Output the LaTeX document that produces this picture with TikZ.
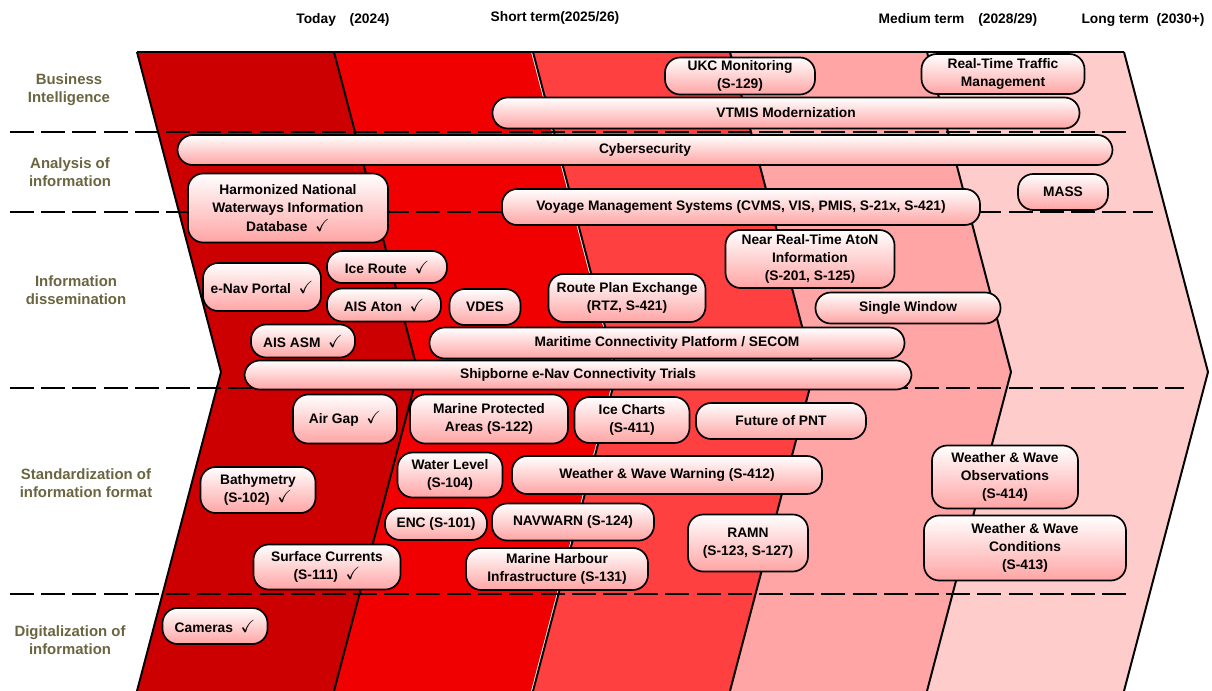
\documentclass[tikz,border=0pt]{standalone}
\usepackage{fontspec}
\usepackage{amssymb}
\setmainfont{Liberation Sans}
\usepackage{xcolor}
\usepackage{tikz}

\definecolor{bandA}{HTML}{CC0000}
\definecolor{bandB}{HTML}{F00000}
\definecolor{bandC}{HTML}{FF4040}
\definecolor{bandD}{HTML}{FFA5A5}
\definecolor{bandE}{HTML}{FFCCCC}
\definecolor{boxpink}{HTML}{FFA4A4}
\definecolor{levelolive}{HTML}{6A6540}

\newcommand{\ok}{~~{\fontsize{12.5}{12.5}\selectfont$\checkmark$}}

\begin{document}
\begin{tikzpicture}[x=0.025cm, y=-0.025cm,
    every node/.style={font=\bfseries\fontsize{9.8}{13}\selectfont},
    item/.style={draw, line width=1.2pt, rounded corners=0.38cm, top color=white, bottom color=boxpink, align=center, inner sep=1pt},
    dims/.style 2 args={minimum width=#1*0.025cm, minimum height=#2*0.025cm},
    level/.style={text=levelolive, align=center, font=\bfseries\fontsize{10.6}{13}\selectfont},
    sep/.style={line width=2pt, dash pattern=on 0.6cm off 0.18cm}]
    \useasboundingbox (0,0) rectangle (1212,691);

    % Time bands
    \foreach \x/\c in {137/bandA, 334/bandB, 533/bandC, 730/bandD, 927/bandE}
        \fill[\c] (\x,52) -- (\x+197,52) -- (\x+281,372) -- (\x+197,691) -- (\x,691) -- (\x+84,372) -- cycle;
    \foreach \x in {137,334,533,730,927,1124}
        \draw[line width=1.4pt] (\x,52) -- (\x+84,372) -- (\x,691);
    \draw[line width=1.4pt] (137,52) -- (1124,52);

    % Headers
    \node (today) at (343,20) {Today\quad(2024)};
    \node (short) at (555,18) {Short term(2025/26)};
    \node (medium) at (958,20) {Medium term\quad(2028/29)};
    \node (long) at (1143,20) {Long term\ \ (2030+)};

    % Levels
    \node[level] (lbi) at (69,90) {Business\\Intelligence};
    \node[level] (lai) at (70,172) {Analysis of\\information};
    \node[level] (lid) at (76,290) {Information\\dissemination};
    \node[level] (lsf) at (86,483) {Standardization of\\information format};
    \node[level] (ldi) at (70,640) {Digitalization of\\information};

    % Separators
    \draw[sep] (10,132) -- (1130,132);
    \draw[sep] (10,212) -- (1153,212);
    \draw[sep] (10,388) -- (1184,388);
    \draw[sep] (10,594) -- (1132,594);

    % Business intelligence
    \node[item, dims={150}{37}] (ukc) at (740,76) {UKC Monitoring\\(S-129)};
    \node[item, dims={163}{40}] (rttm) at (1003,74) {Real-Time Traffic\\Management};
    \node[item, dims={587}{31}] (vtmis) at (786,113) {VTMIS Modernization};

    % Analysis of information
    \node[item, dims={935}{30}] (cyber) at (645,150) {Cybersecurity};
    \node[item, dims={200}{69}] (hnwid) at (288,208) {Harmonized National\\Waterways Information\\Database\ok};
    \node[item, dims={478}{36}] (vms) at (741,207) {Voyage Management Systems (CVMS, VIS, PMIS, S-21x, S-421)};
    \node[item, dims={90}{36}] (mass) at (1063,192) {MASS};

    % Information dissemination
    \node[item, dims={169}{58}] (aton) at (810,259) {Near Real-Time AtoN\\Information\\(S-201, S-125)};
    \node[item, dims={120}{32}] (iceroute) at (387,267) {Ice Route\ok};
    \node[item, dims={118}{48}] (portal) at (262,287) {e-Nav Portal\ok};
    \node[item, dims={114}{33}] (aisaton) at (384,305) {AIS Aton\ok};
    \node[item, dims={71}{36}] (vdes) at (485,307) {VDES};
    \node[item, dims={157}{48}] (rtz) at (627,298) {Route Plan Exchange\\(RTZ, S-421)};
    \node[item, dims={185}{31}] (window) at (908,308) {Single Window};
    \node[item, dims={104}{33}] (asm) at (303,341) {AIS ASM\ok};
    \node[item, dims={475}{31}] (mcp) at (667,343) {Maritime Connectivity Platform / SECOM};
    \node[item, dims={667}{29}] (trials) at (578,375) {Shipborne e-Nav Connectivity Trials};

    % Standardization of information format
    \node[item, dims={104}{49}] (airgap) at (345,419) {Air Gap\ok};
    \node[item, dims={158}{49}] (mpa) at (489,419) {Marine Protected\\Areas (S-122)};
    \node[item, dims={115}{46}] (icecharts) at (632,420) {Ice Charts\\(S-411)};
    \node[item, dims={170}{36}] (pnt) at (781,421) {Future of PNT};
    \node[item, dims={105}{45}] (level) at (450,475) {Water Level\\(S-104)};
    \node[item, dims={310}{38}] (warning) at (667,475) {Weather \& Wave Warning (S-412)};
    \node[item, dims={115}{46}] (bathy) at (258,490) {Bathymetry\\(S-102)\ok};
    \node[item, dims={146}{63}] (observ) at (1005,477) {Weather \& Wave\\Observations\\(S-414)};
    \node[item, dims={102}{32}] (enc) at (436,524) {ENC (S-101)};
    \node[item, dims={162}{37}] (navwarn) at (573,522) {NAVWARN (S-124)};
    \node[item, dims={120}{57}] (ramn) at (748,543) {RAMN\\(S-123, S-127)};
    \node[item, dims={202}{65}] (cond) at (1025,548) {Weather \& Wave\\Conditions\\(S-413)};
    \node[item, dims={147}{45}] (currents) at (327,567) {Surface Currents\\(S-111)\ok};
    \node[item, dims={182}{42}] (harbour) at (557,569) {Marine Harbour\\Infrastructure (S-131)};

    % Digitalization of information
    \node[item, dims={105}{36}] (cameras) at (215,626) {Cameras\ok};
\end{tikzpicture}
\end{document}
